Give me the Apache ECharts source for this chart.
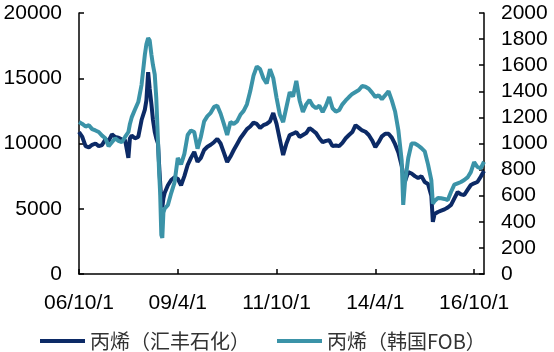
<!DOCTYPE html>
<html>
<head>
<meta charset="utf-8">
<script src="https://cdn.jsdelivr.net/npm/echarts@6/dist/echarts.min.js"></script>
<style>html,body{margin:0;padding:0;background:#fff;}#c{width:554px;height:352px;}</style>
</head>
<body>
<div id="c"></div>
<script>
const seriesNames = ['丙烯（汇丰石化）', '丙烯（韩国FOB）'];
const xTickLabels = ['06/10/1', '09/4/1', '11/10/1', '14/4/1', '16/10/1'];
const dates = [
'2006-10-01','2006-11-01','2006-12-01','2007-01-01','2007-02-01','2007-03-01','2007-04-01','2007-05-01','2007-06-01','2007-07-01','2007-08-01','2007-09-01','2007-10-01','2007-11-01','2007-12-01',
'2008-01-01','2008-01-15','2008-02-01','2008-03-01','2008-04-01','2008-05-01','2008-06-01','2008-06-15','2008-07-01','2008-07-15','2008-08-01','2008-08-15','2008-09-01','2008-09-15','2008-10-01','2008-10-10','2008-10-20','2008-11-01','2008-11-10','2008-11-20','2008-12-01',
'2009-01-01','2009-02-01','2009-03-01','2009-04-01','2009-05-01','2009-06-01','2009-07-01','2009-08-01','2009-09-01','2009-10-01','2009-11-01','2009-12-01',
'2010-01-01','2010-02-01','2010-03-01','2010-04-01','2010-05-01','2010-06-01','2010-07-01','2010-08-01','2010-09-01','2010-10-01','2010-11-01','2010-12-01',
'2011-01-01','2011-02-01','2011-03-01','2011-04-01','2011-05-01','2011-06-01','2011-07-01','2011-08-01','2011-09-01','2011-10-01','2011-11-01','2011-12-01',
'2012-01-01','2012-02-01','2012-03-01','2012-04-01','2012-05-01','2012-06-01','2012-07-01','2012-08-01','2012-09-01','2012-10-01','2012-11-01','2012-12-01',
'2013-01-01','2013-02-01','2013-03-01','2013-04-01','2013-05-01','2013-06-01','2013-07-01','2013-08-01','2013-09-01','2013-10-01','2013-11-01','2013-12-01',
'2014-01-01','2014-02-01','2014-03-01','2014-04-01','2014-05-01','2014-06-01','2014-07-01','2014-08-01','2014-09-01','2014-10-01','2014-11-01','2014-12-01','2014-12-15',
'2015-01-01','2015-02-01','2015-03-01','2015-04-01','2015-05-01','2015-06-01','2015-07-01','2015-08-01','2015-09-01','2015-09-15','2015-10-01','2015-11-01','2015-12-01',
'2016-01-01','2016-02-01','2016-03-01','2016-04-01','2016-05-01','2016-06-01','2016-07-01','2016-08-01','2016-09-01','2016-10-01','2016-11-01','2016-12-01','2017-01-01'
];
const huifengValues = [
10880,10500,9800,9700,9900,10000,9800,9880,10300,10200,10700,10500,10450,10300,10250,
8900,10400,10600,10400,10500,11800,12600,13300,15470,14200,13000,11800,10900,10400,10000,8500,7050,5600,5100,5800,6200,
6800,7200,7400,7300,6800,7500,8350,8900,9350,8600,8900,9500,
9750,9900,10100,10350,10000,9300,8580,9000,9500,9950,10400,10750,
11100,11300,11600,11500,11200,11400,11500,11700,12330,11500,10300,9120,
10000,10650,10750,10880,10500,10650,10800,11180,11000,10800,10400,10100,
10200,10250,9800,9850,9800,10050,10400,10650,10880,11400,11200,11000,
10900,10650,10250,9730,10100,10550,10750,10750,10450,9950,9300,8300,7600,
7100,7810,7700,7500,7350,7500,7050,6900,6000,4000,4600,4750,4850,
4950,5100,5300,5800,6280,6100,6050,6450,6820,6950,7050,7450,7900
];
const koreaFobValues = [
1164,1150,1130,1140,1110,1100,1088,1060,1040,980,1010,1040,1020,1010,1050,
1088,1150,1200,1260,1318,1450,1680,1760,1808,1790,1680,1600,1530,1350,1010,800,628,300,276,470,500,
529,620,700,889,840,920,1065,1100,1088,960,1050,1170,
1210,1235,1280,1290,1230,1150,1065,1164,1150,1170,1220,1250,
1300,1400,1520,1590,1570,1500,1460,1570,1501,1350,1220,1164,
1280,1394,1360,1480,1330,1241,1300,1333,1290,1270,1290,1240,
1290,1356,1270,1245,1255,1300,1330,1356,1380,1395,1410,1440,
1435,1420,1390,1356,1370,1340,1370,1400,1330,1245,1100,870,529,
700,889,1000,1000,985,965,940,840,720,540,560,582,580,
575,567,630,685,695,705,720,740,781,858,820,810,860
];

// months elapsed since 2006-10-01
function monthIndex(s) {
  const p = s.split('-').map(Number);
  return (p[0] - 2006) * 12 + (p[1] - 10) + (p[2] - 1) / 30;
}
function labelFor(m) {
  if (m % 30 !== 0) return '';
  return xTickLabels[m / 30] || '';
}
function plain(v) { return String(v); }

const numFont = 'Arial, "Liberation Sans", sans-serif';
const chart = echarts.init(document.getElementById('c'), null, {renderer: 'canvas'});
chart.setOption({
  animation: false,
  backgroundColor: '#fff',
  grid: {left: 79, right: 70, top: 13, bottom: 78, containLabel: false, outerBoundsMode: 'none'},
  legend: {
    left: 35, top: 326,
    itemGap: 27, itemWidth: 45, itemHeight: 4,
    icon: 'rect',
    textStyle: {fontFamily: '"Noto Sans CJK SC", sans-serif', fontSize: 20, color: '#333'},
    data: seriesNames
  },
  xAxis: {
    type: 'value', min: 0, max: 123, interval: 30,
    axisLine: {show: true, lineStyle: {color: '#000', width: 1.5}},
    axisTick: {show: true, inside: true, length: 5, lineStyle: {color: '#000', width: 1.5}},
    axisLabel: {formatter: labelFor, showMaxLabel: false, fontSize: 21, fontFamily: numFont, color: '#000', margin: 19},
    splitLine: {show: false}
  },
  yAxis: [
    {
      type: 'value', min: 0, max: 20000, interval: 5000, position: 'left',
      axisLine: {show: true, lineStyle: {color: '#000', width: 1.5}},
      axisTick: {show: true, inside: true, length: 5, lineStyle: {color: '#000', width: 1.5}},
      axisLabel: {formatter: plain, fontSize: 21, fontFamily: numFont, color: '#000', margin: 17},
      splitLine: {show: false}
    },
    {
      type: 'value', min: 0, max: 2000, interval: 200, position: 'right',
      axisLine: {show: true, lineStyle: {color: '#000', width: 1.5}},
      axisTick: {show: true, inside: true, length: 5, lineStyle: {color: '#000', width: 1.5}},
      axisLabel: {formatter: plain, fontSize: 21, fontFamily: numFont, color: '#000', margin: 17},
      splitLine: {show: false}
    }
  ],
  series: [
    {
      name: seriesNames[0], type: 'line', yAxisIndex: 0,
      showSymbol: false, symbol: 'none',
      lineStyle: {color: '#0c2a66', width: 4},
      itemStyle: {color: '#0c2a66'},
      data: dates.map((d, i) => [monthIndex(d), huifengValues[i]])
    },
    {
      name: seriesNames[1], type: 'line', yAxisIndex: 1,
      showSymbol: false, symbol: 'none',
      lineStyle: {color: '#3b93a8', width: 4},
      itemStyle: {color: '#3b93a8'},
      data: dates.map((d, i) => [monthIndex(d), koreaFobValues[i]])
    }
  ]
});
</script>
</body>
</html>
